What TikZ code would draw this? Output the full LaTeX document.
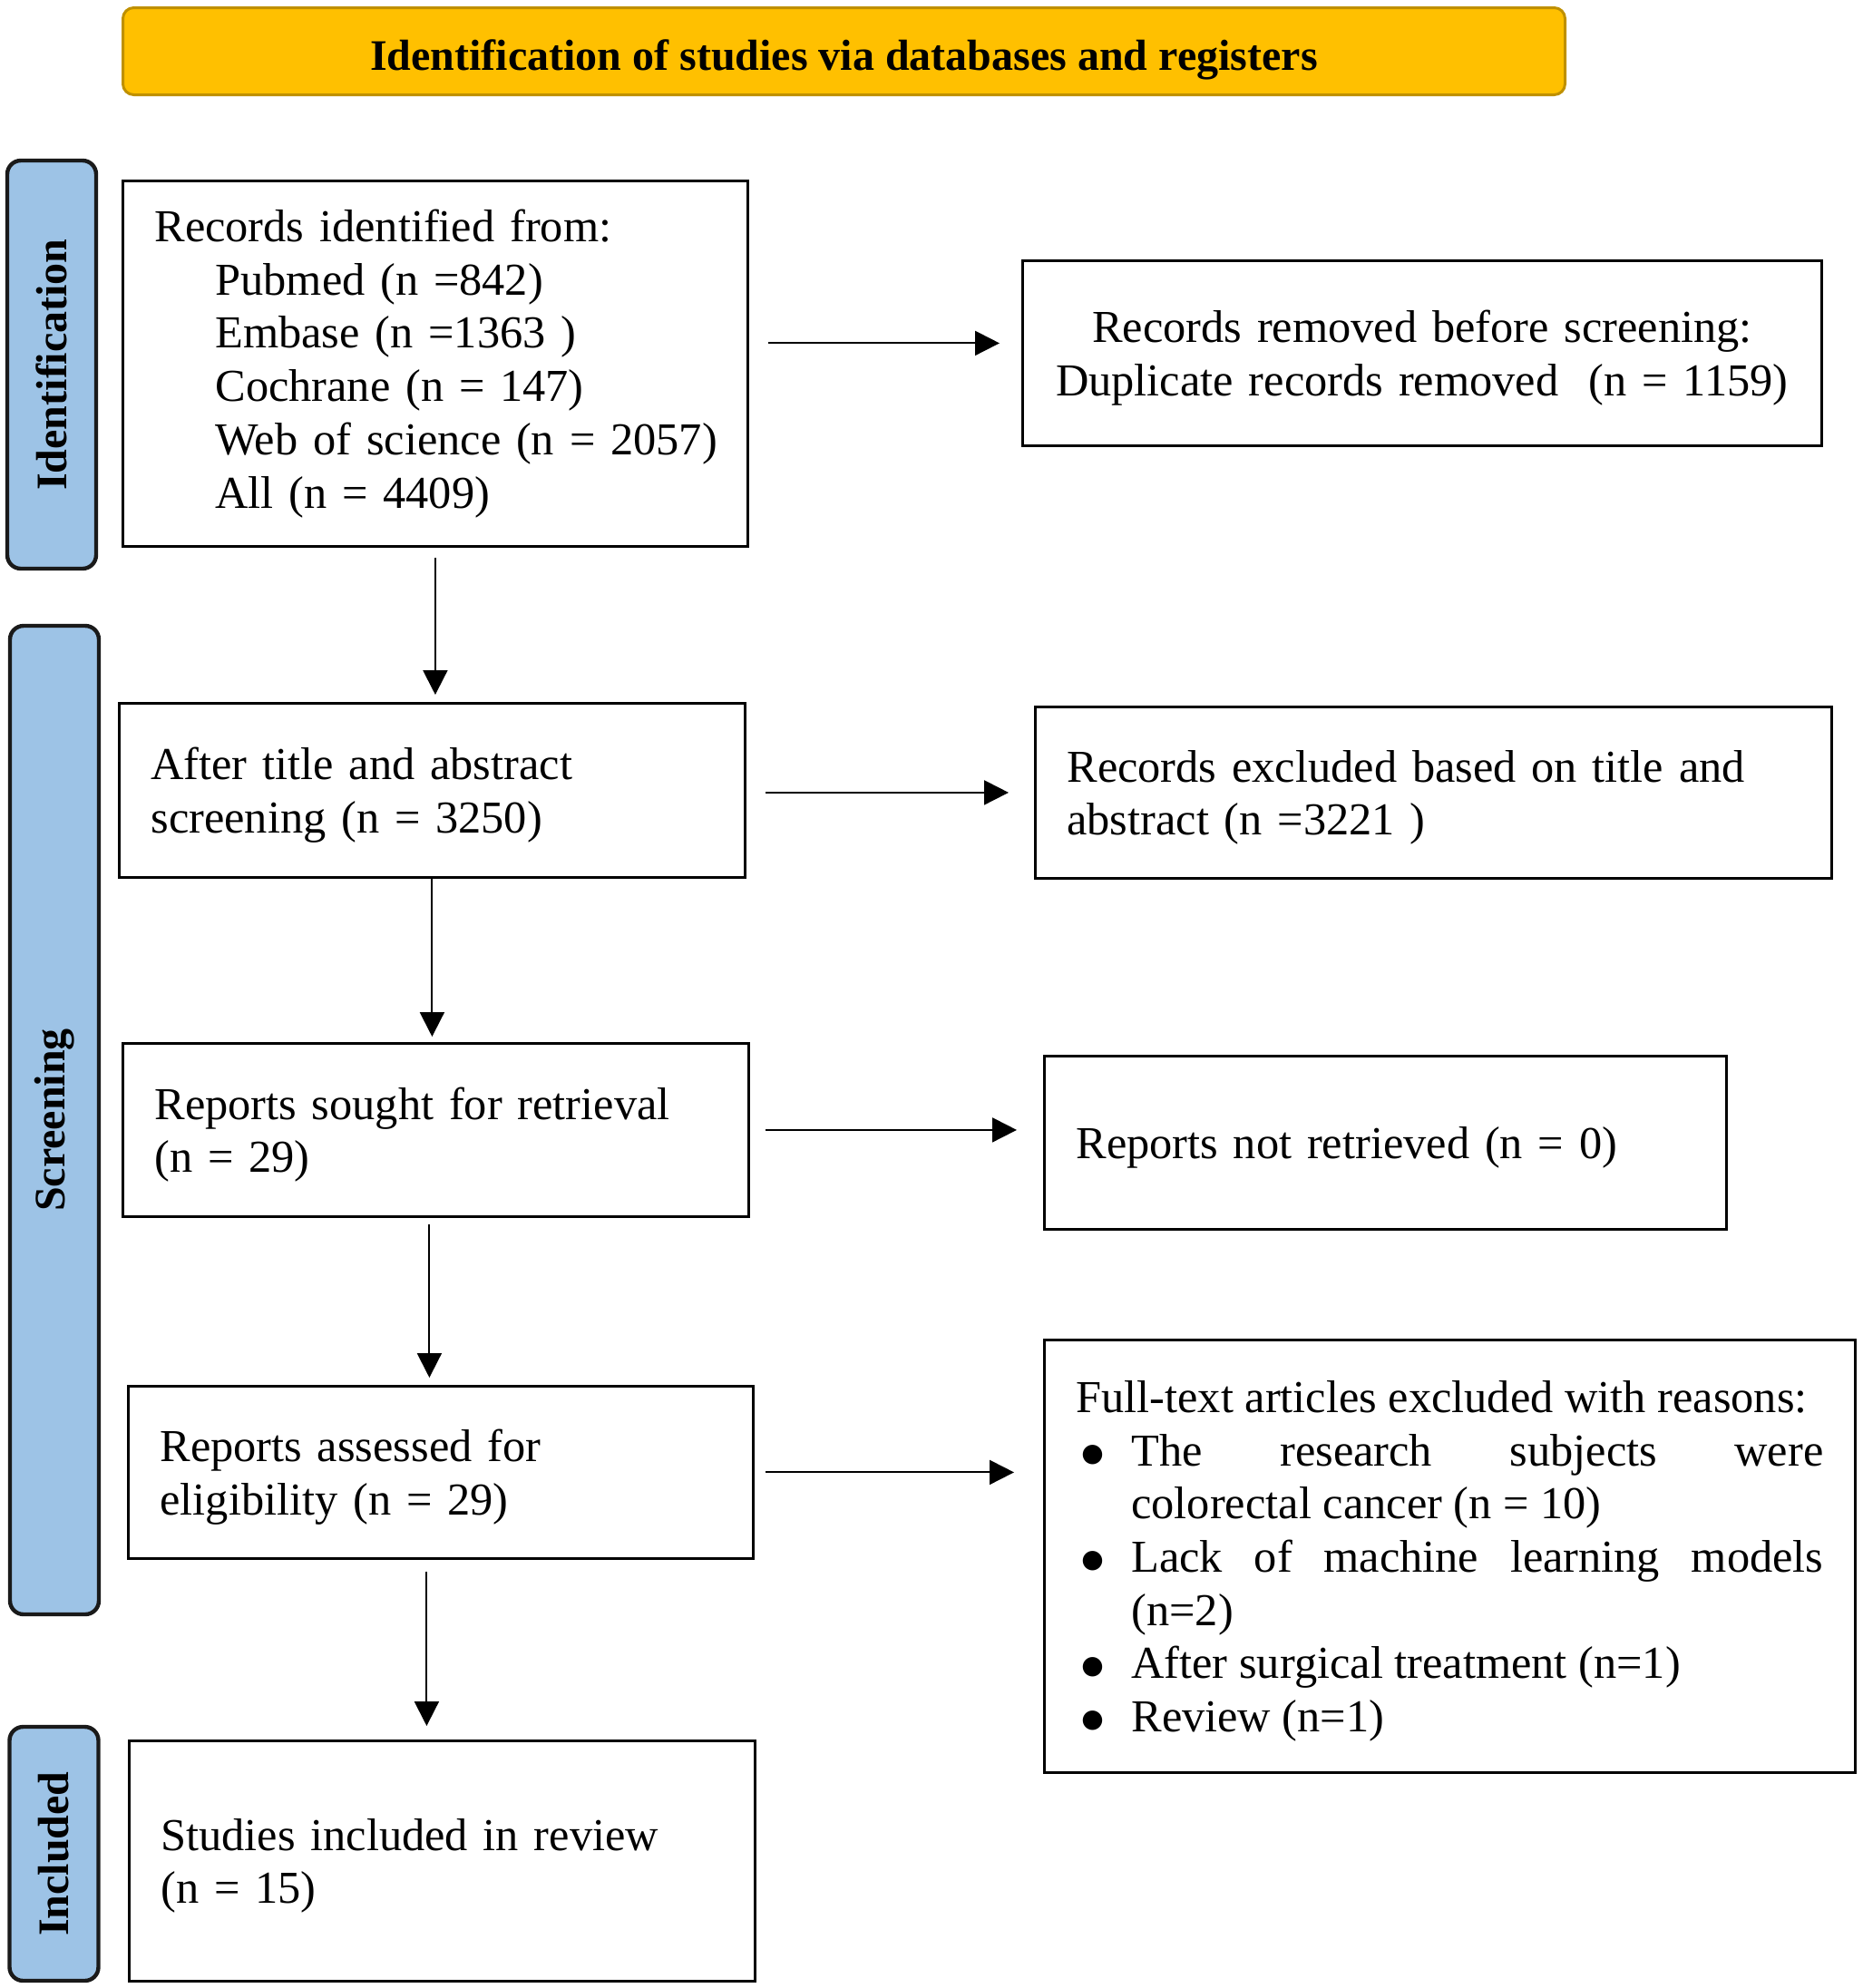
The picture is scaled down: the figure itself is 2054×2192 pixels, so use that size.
\documentclass[tikz,border=0pt]{standalone}
\usepackage{fontspec}
\setmainfont{Liberation Serif}
\newfontfamily\symfont{DejaVu Sans}
\usetikzlibrary{arrows.meta}
\definecolor{titlefill}{HTML}{FFC000}
\definecolor{titledraw}{HTML}{BF9000}
\definecolor{labelfill}{HTML}{9DC3E6}
\definecolor{labeldraw}{HTML}{1A1A1A}
\newcommand\bodyfont{\fontsize{25.2pt}{29.35pt}\selectfont}
\newcommand\labfont{\fontsize{24pt}{28pt}\selectfont\bfseries}
\newcommand\mybul{\par\noindent\hangindent=30.5pt\hangafter=1\makebox[30.5pt][l]{\hspace{3pt}\raisebox{2.5pt}{\symfont\fontsize{14pt}{14pt}\selectfont ●}}}
\begin{document}
\begin{tikzpicture}[x=0.5pt,y=-0.5pt,
 box/.style={draw, line width=1.4pt, inner xsep=17.5pt, inner ysep=0pt, anchor=north west, align=left, font=\bodyfont},
 lower/.style={execute at begin node={\rule{0pt}{23pt}}},
 lab/.style={draw=labeldraw, fill=labelfill, line width=2.2pt, rounded corners=7.5pt, rotate=90, inner sep=0pt, font=\labfont, minimum height=49pt},
 arr/.style={line width=1pt, -{Triangle[length=13.5pt,width=13.5pt]}}]
\useasboundingbox (0,0) rectangle (2054,2192);

\node[fill=titlefill, draw=titledraw, line width=1.5pt, rounded corners=6pt, anchor=north west, minimum width=795pt, minimum height=48pt, inner sep=0pt, text height=25.8pt, text depth=5pt, font=\labfont] (title) at (134,7) {Identification of studies via databases and registers};

\node[lab, minimum width=225pt] (l1) at (57,402) {Identification};
\node[lab, minimum width=545pt] (l2) at (60,1235) {Screening};
\node[lab, minimum width=140pt] (l3) at (59.5,2044) {Included};

\node[box, text width=309.5pt, minimum height=201.5pt] (b1) at (134,198) {\mbox{Records identified from:}\\
\hspace*{33.5pt}\mbox{Pubmed (n =842)}\\
\hspace*{33.5pt}\mbox{Embase (n =1363 )}\\
\hspace*{33.5pt}\mbox{Cochrane (n = 147)}\\
\hspace*{33.5pt}\mbox{Web of science (n = 2057)}\\
\hspace*{33.5pt}\mbox{All (n = 4409)}};

\node[box, lower, align=center, inner xsep=8pt, text width=424.5pt, minimum height=102pt] (r1) at (1126,286) {\mbox{Records removed before screening:}\\ \mbox{Duplicate records removed\ \ (n = 1159)}};

\node[box, lower, text width=310pt, minimum height=96pt] (b2) at (130,774) {\mbox{After title and abstract}\\ \mbox{screening (n = 3250)}};
\node[box, lower, text width=404pt, minimum height=94.5pt] (r2) at (1140,778) {\mbox{Records excluded based on title and}\\ \mbox{abstract (n =3221 )}};

\node[box, lower, text width=310pt, minimum height=95.5pt] (b3) at (134,1149) {\mbox{Reports sought for retrieval}\\ (n = 29)};
\node[box, lower, text width=341pt, minimum height=95.5pt] (r3) at (1150,1163) {\mbox{Reports not retrieved (n = 0)}};

\node[box, lower, text width=309.5pt, minimum height=95pt] (b4) at (140,1527) {\mbox{Reports assessed for}\\ \mbox{eligibility (n = 29)}};
\node[box, lower, align=justify, text width=412pt, minimum height=238.5pt] (r4) at (1150,1476) {\mbox{Full-text articles excluded with reasons:}\mybul The research subjects were\linebreak colorectal cancer (n = 10)\mybul Lack of machine learning models\linebreak (n=2)\mybul After surgical treatment (n=1)\mybul Review (n=1)};

\node[box, lower, text width=310pt, minimum height=132.5pt] (b5) at (141,1918) {\mbox{Studies included in review}\\ (n = 15)};

\draw[arr, transform canvas={yshift=5.5pt}, shorten <=10.5pt, shorten >=12pt] (b1.east |- r1.west) -- (r1.west);
\draw[arr, shorten <=10.5pt, shorten >=14pt] (b2.east |- r2.west) -- (r2.west);
\draw[arr, shorten <=8.5pt, shorten >=14.5pt] (b3.east) -- (b3.east -| r3.west);
\draw[arr, shorten <=6pt, shorten >=16pt] (b4.east) -- (b4.east -| r4.west);

\draw[arr, shorten <=5.5pt, shorten >=4pt] (b1.south) -- (b1.south |- b2.north);
\draw[arr, shorten >=3pt] (b2.south) -- (b2.south |- b3.north);
\coordinate (d3) at ([xshift=-3.5pt]b3.south);
\draw[arr, shorten <=3.5pt, shorten >=4pt] (d3) -- (d3 |- b4.north);
\coordinate (d4) at ([xshift=-7.75pt]b4.south);
\draw[arr, shorten <=6.5pt, shorten >=7.5pt] (d4) -- (d4 |- b5.north);
\end{tikzpicture}
\end{document}
